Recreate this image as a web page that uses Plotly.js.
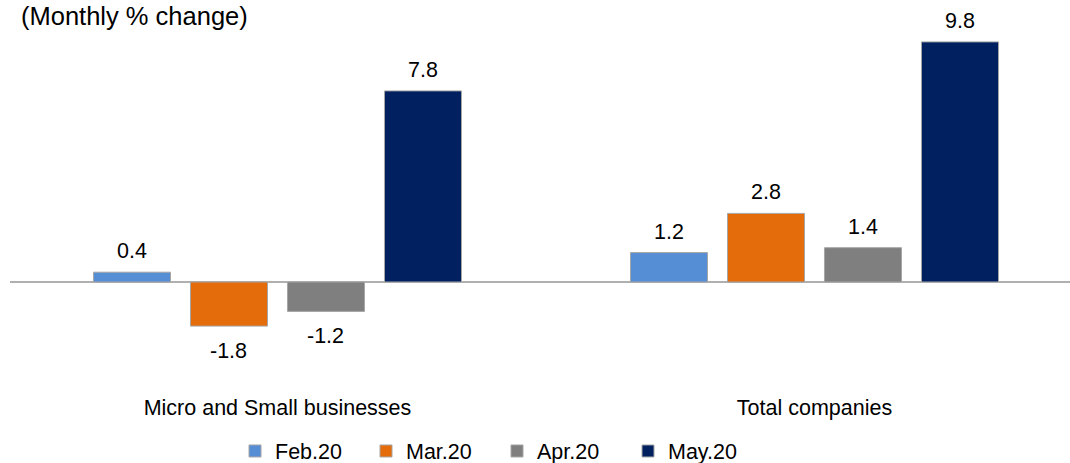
<!DOCTYPE html>
<html>
<head>
<meta charset="utf-8">
<script src="https://cdn.plot.ly/plotly-3.0.1.min.js"></script>
<style>html,body{margin:0;padding:0;background:#fff;}#chart{width:1070px;height:463px;}</style>
</head>
<body>
<div id="chart"></div>
<script>
const categories = ["Micro and Small businesses", "Total companies"];
const seriesNames = ["Feb.20", "Mar.20", "Apr.20", "May.20"];
const feb20 = [0.4, 1.2];
const mar20 = [-1.8, 2.8];
const apr20 = [-1.2, 1.4];
const may20 = [7.8, 9.8];
const colors = ["#558ED5", "#E46C0A", "#7F7F7F", "#002060"];

const seriesValues = [feb20, mar20, apr20, may20];
const bargap = 0.2775;
const font = "Liberation Sans, Arial, sans-serif";

const W = 1070, H = 463;
const ml = 10, mr = 0, mt = 30, mb = 71;
const pw = W - ml - mr, ph = H - mt - mb;

const traces = seriesValues.map((vals, j) => ({
  type: "bar",
  name: seriesNames[j],
  x: categories,
  y: vals,
  marker: {color: colors[j], line: {color: "#A6A6A6", width: 1}},
  hoverinfo: "skip"
}));

const slot = (1 - bargap) / seriesValues.length;
const annotations = [];
seriesValues.forEach((vals, j) => {
  vals.forEach((v, i) => {
    annotations.push({
      x: i + (j - (seriesValues.length - 1) / 2) * slot,
      y: v,
      xref: "x", yref: "y",
      text: v.toFixed(1),
      showarrow: false,
      yanchor: "middle",
      yshift: v >= 0 ? 21 : -25,
      font: {family: font, size: 21.5, color: "#000"}
    });
  });
});
annotations.push({
  x: 0, y: 0, xref: "paper", yref: "paper",
  text: "(Monthly % change)", showarrow: false,
  xanchor: "left", yanchor: "middle",
  font: {family: font, size: 25.5, color: "#000"}
});
const t = annotations[annotations.length - 1];
t.x = (19 - ml) / pw;
t.y = ((H - mb) - 16) / ph;

const layout = {
  width: W, height: H,
  margin: {l: ml, r: mr, t: mt, b: mb, pad: 0, autoexpand: false},
  paper_bgcolor: "#fff", plot_bgcolor: "#fff",
  barmode: "group",
  bargap: bargap,
  bargroupgap: 0.206,
  showlegend: true,
  legend: {
    orientation: "h",
    xref: "container", yref: "container",
    x: 497 / W, xanchor: "center",
    y: 1 - 451 / H, yanchor: "middle",
    font: {family: font, size: 21.5, color: "#000"},
    itemwidth: 30,
    entrywidth: 86, entrywidthmode: "pixels",
    itemclick: false, itemdoubleclick: false
  },
  xaxis: {
    type: "category",
    range: [-0.4981, 1.4758],
    showgrid: false, zeroline: false, showline: false,
    ticks: "", showticklabels: true,
    tickfont: {family: font, size: 21.5, color: "#000"},
    fixedrange: true
  },
  yaxis: {
    range: [-4.4898, 10.2857],
    showgrid: false, showticklabels: false, ticks: "",
    zeroline: true, zerolinecolor: "#B0B0B0", zerolinewidth: 2,
    showline: false, fixedrange: true
  },
  annotations: annotations,
  font: {family: font}
};

Plotly.newPlot("chart", traces, layout, {displayModeBar: false, staticPlot: true});
</script>
</body>
</html>
